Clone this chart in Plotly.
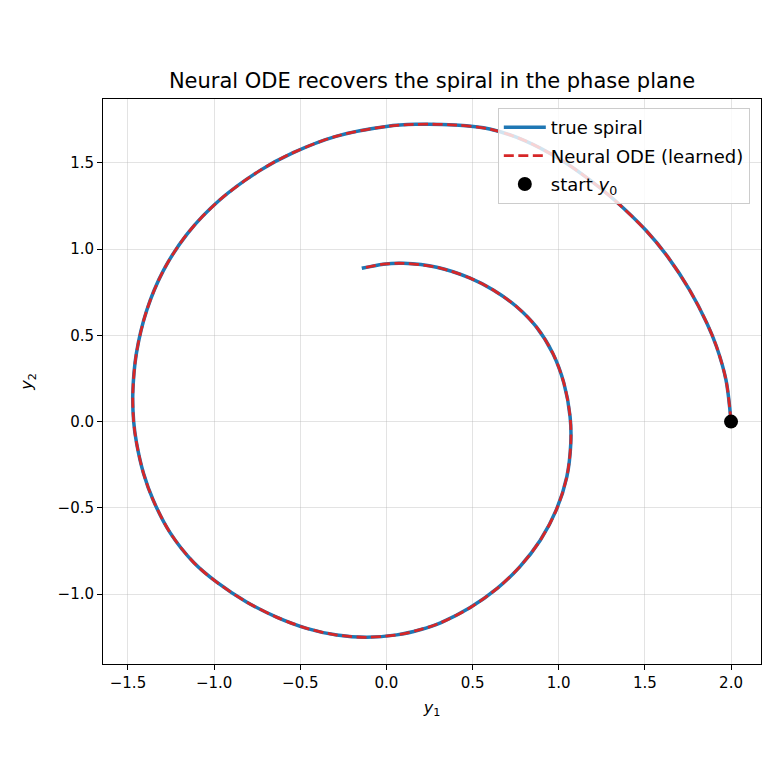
import plotly.graph_objects as go

# Trajectory points (phase plane y1, y2)
true_y1 = [2.0, 1.971, 1.916, 1.860, 1.760, 1.631, 1.507, 1.320, 1.182, 1.010,
           0.802, 0.599, 0.40, 0.170, 0.0, -0.288, -0.541, -0.733, -0.968, -1.156,
           -1.294, -1.391, -1.451, -1.472, -1.467, -1.450, -1.410, -1.354, -1.254, -1.117,
           -0.987, -0.812, -0.638, -0.463, -0.288, -0.114, 0.060, 0.195, 0.314, 0.484,
           0.641, 0.775, 0.893, 0.986, 1.047, 1.070, 1.066, 1.030, 0.966, 0.870,
           0.756, 0.620, 0.486, 0.292, 0.098, -0.018, -0.143]
true_y2 = [0.0, 0.240, 0.434, 0.570, 0.762, 0.958, 1.108, 1.288, 1.400, 1.520,
           1.630, 1.697, 1.720, 1.724, 1.712, 1.656, 1.560, 1.457, 1.285, 1.089,
           0.877, 0.646, 0.397, 0.164, 0.0, -0.126, -0.300, -0.455, -0.647, -0.819,
           -0.930, -1.046, -1.134, -1.199, -1.238, -1.251, -1.237, -1.207, -1.167, -1.080,
           -0.969, -0.841, -0.688, -0.512, -0.320, -0.126, 0.028, 0.223, 0.395, 0.549,
           0.666, 0.763, 0.832, 0.895, 0.918, 0.913, 0.889]

learned_y1 = list(true_y1)
learned_y2 = list(true_y2)

start_y1 = [2.0]
start_y2 = [0.0]

x_ticks = [-1.5, -1.0, -0.5, 0.0, 0.5, 1.0, 1.5, 2.0]
y_ticks = [-1.0, -0.5, 0.0, 0.5, 1.0, 1.5]

font = "DejaVu Sans"

fig = go.Figure()
fig.add_trace(go.Scatter(x=true_y1, y=true_y2, mode="lines", name="true spiral",
                         legendgroup="a",
                         line=dict(color="#1f77b4", width=3.5, shape="spline", smoothing=0.9)))
fig.add_trace(go.Scatter(x=learned_y1, y=learned_y2, mode="lines", name="Neural ODE (learned)",
                         legendgroup="b",
                         line=dict(color="#d62728", width=2.8, dash="10px,4.5px",
                                   shape="spline", smoothing=0.9)))
fig.add_trace(go.Scatter(x=start_y1, y=start_y2, mode="markers", name="start <i>y</i><sub>0</sub>",
                         legendgroup="c",
                         marker=dict(color="black", size=14)))

axis_common = dict(
    showline=True, linecolor="black", linewidth=1, mirror=True,
    ticks="outside", ticklen=5, tickwidth=1, tickcolor="black",
    showgrid=True, gridcolor="rgba(176,176,176,0.35)", gridwidth=1,
    zeroline=False, tickformat=".1f",
    tickfont=dict(family=font, size=15, color="black"),
)

fig.update_layout(
    width=780, height=780,
    paper_bgcolor="white", plot_bgcolor="white",
    margin=dict(l=103, r=19, t=99, b=116),
    title=dict(text="Neural ODE recovers the spiral in the phase plane",
               font=dict(family=font, size=21, color="black"),
               x=(103 + 761) / 2 / 780, xanchor="center", y=1 - 81 / 780, yanchor="middle"),
    xaxis=dict(range=[-1.645, 2.174], tickvals=x_ticks,
               title=dict(text="<i>y</i><sub>1</sub>", font=dict(family=font, size=16, color="black"), standoff=10),
               **axis_common),
    yaxis=dict(range=[-1.406, 1.871], tickvals=y_ticks,
               title=dict(text="<i>y</i><sub>2</sub>", font=dict(family=font, size=16, color="black"), standoff=20),
               **axis_common),
    legend=dict(x=0.983, xanchor="right", y=0.984, yanchor="top",
                bgcolor="rgba(255,255,255,0.8)", bordercolor="#cccccc", borderwidth=1,
                font=dict(family=font, size=18, color="black"), tracegroupgap=2,
                itemwidth=42),
    showlegend=True,
)

fig.write_html("out.html")
